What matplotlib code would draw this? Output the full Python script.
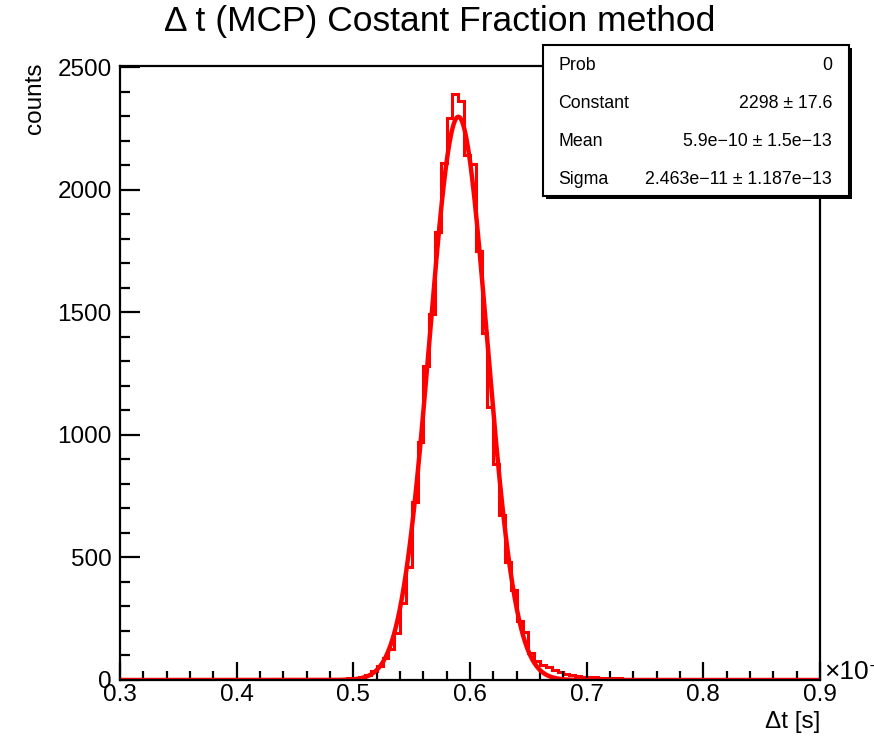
import numpy as np
import matplotlib
matplotlib.use('Agg')
import matplotlib.pyplot as plt
from matplotlib.ticker import MultipleLocator, FixedLocator
from matplotlib.patches import Rectangle

plt.rcParams['font.family'] = ['Liberation Sans', 'DejaVu Sans']

# ---- data (x in units of 1e-9 s) ----
x_min, x_max = 0.3, 0.9
counts = [
    0, 0, 0, 0, 0, 0, 0, 0, 0, 0,
    0, 0, 0, 0, 0, 0, 0, 0, 0, 0,
    0, 0, 0, 0, 0, 0, 0, 0, 0, 0,
    0, 0, 0, 0, 0, 1, 2, 3, 5, 7,
    10, 13, 20, 38, 57, 88, 128, 190, 315, 460,
    727, 972, 1280, 1493, 1828, 2110, 2294, 2392, 2363, 2141,
    2107, 1750, 1415, 1115, 880, 673, 483, 367, 240, 195,
    112, 78, 62, 52, 42, 34, 24, 20, 15, 14,
    12, 11, 10, 9, 8, 7, 6, 6, 5, 5,
    4, 4, 3, 3, 3, 2, 2, 2, 1, 1,
    1, 0, 0, 0, 0, 0, 0, 0, 0, 0,
    0, 0, 0, 0, 0, 0, 0, 0, 0, 0,
]
fit_constant = 2298.0
fit_mean = 0.59          # 5.9e-10 s
fit_sigma = 0.02463      # 2.463e-11 s

title = "\u0394 t (MCP) Costant Fraction method"
stat_labels = ["Prob", "Constant", "Mean", "Sigma"]
stat_values = ["0", "2298 \u00b1 17.6", "5.9e\u221210 \u00b1 1.5e\u221213",
               "2.463e\u221211 \u00b1 1.187e\u221213"]
x_ticks = [0.3, 0.4, 0.5, 0.6, 0.7, 0.8, 0.9]
y_ticks = [0, 500, 1000, 1500, 2000, 2500]

# ---- figure ----
W, H = 874, 737
fig = plt.figure(figsize=(W / 100, H / 100), dpi=100)
ax = fig.add_axes([120 / W, 1 - 680 / H, 700 / W, (680 - 66) / H])

edges = np.linspace(x_min, x_max, len(counts) + 1)
ax.stairs(counts, edges, color='#ff0000', lw=2.2, baseline=0)

xf = np.linspace(x_min, x_max, 1200)
yf = fit_constant * np.exp(-0.5 * ((xf - fit_mean) / fit_sigma) ** 2)
ax.plot(xf, yf, color='#ff0000', lw=3.2, solid_capstyle='butt')

ax.set_xlim(x_min, x_max)
ax.set_ylim(0, 2505)
ax.xaxis.set_major_locator(FixedLocator(x_ticks))
ax.xaxis.set_minor_locator(MultipleLocator(0.02))
ax.yaxis.set_major_locator(FixedLocator(y_ticks))
ax.yaxis.set_minor_locator(MultipleLocator(100))
ax.set_xticklabels([f"{v:g}" for v in x_ticks])
ax.set_yticklabels([f"{v:d}" for v in y_ticks])

for s in ax.spines.values():
    s.set_linewidth(1.6)
ax.tick_params(axis='both', which='both', direction='in', top=False, right=False,
               width=1.6, labelsize=17.5, colors='black')
ax.tick_params(axis='x', which='major', length=13, pad=3)
ax.tick_params(axis='x', which='minor', length=6.5)
ax.tick_params(axis='y', which='major', length=14.5, pad=6)
ax.tick_params(axis='y', which='minor', length=7.5)

fig.text(0.503, 1 - 21 / H, title, ha='center', va='center', fontsize=25.5)
fig.text(35 / W, 1 - 62 / H, "counts", rotation=90, ha='center', va='top', fontsize=17.5)
fig.text(820 / W, 1 - 722 / H, "\u0394t [s]", ha='right', va='center', fontsize=17.5)
fig.text(824 / W, 1 - 672 / H, "\u00d710\u207b\u2079", ha='left', va='center', fontsize=19)

# ---- stats box ----
bx0, bx1, by0, by1 = 543, 849, 45, 196
shadow = Rectangle((bx0 / W + 3 / W, 1 - by1 / H - 3 / H), (bx1 - bx0) / W, (by1 - by0) / H,
                   transform=fig.transFigure, facecolor='black', edgecolor='black', lw=0,
                   zorder=10)
box = Rectangle((bx0 / W, 1 - by1 / H), (bx1 - bx0) / W, (by1 - by0) / H,
                transform=fig.transFigure, facecolor='white', edgecolor='black', lw=1.5,
                zorder=11)
fig.patches.extend([shadow, box])
row_y = [65, 103, 141, 179]
for lab, val, ry in zip(stat_labels, stat_values, row_y):
    fig.text(558 / W, 1 - ry / H, lab, ha='left', va='center', fontsize=12.8, zorder=12)
    fig.text(832 / W, 1 - ry / H, val, ha='right', va='center', fontsize=12.8, zorder=12)

fig.savefig('out.png', dpi=100)
